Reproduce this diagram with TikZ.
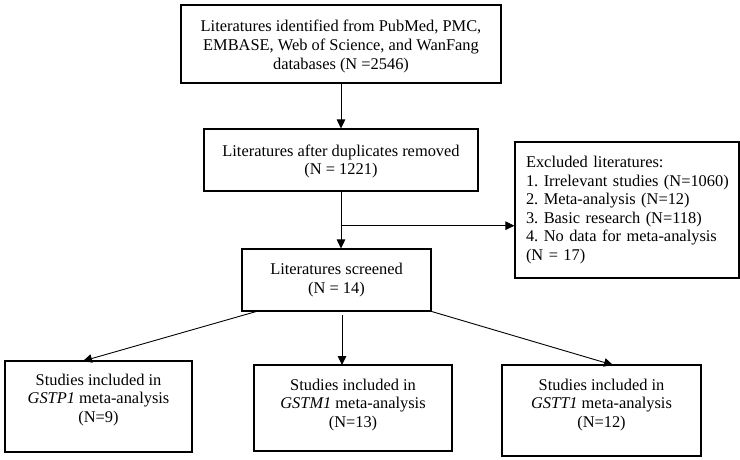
\documentclass[tikz,border=0pt]{standalone}
\usepackage{fontspec}
\setmainfont{Liberation Serif}
\usetikzlibrary{arrows.meta}
\begin{document}
\frenchspacing
\begin{tikzpicture}[x=1pt,y=-1pt,
  box/.style={draw, line width=1.1pt, inner sep=0pt},
  txt/.style={font=\fontsize{16.4}{18.6}\selectfont\frenchspacing, align=center, inner sep=0pt},
  lin/.style={line width=0.9pt},
  arr/.style={line width=0.9pt, -{Triangle[length=9pt,width=8.5pt]}}]
\useasboundingbox[fill=white] (0,0) rectangle (740,459);
% boxes
\node[box, minimum width=320pt, minimum height=78pt] (b1) at (341,44) {};
\node[box, minimum width=274pt, minimum height=62pt] (b2) at (341,160) {};
\node[box, minimum width=189pt, minimum height=62pt] (b3) at (336.5,280) {};
\node[box, minimum width=224pt, minimum height=136pt] (ex) at (627,210) {};
\node[box, minimum width=187pt, minimum height=91pt] (b4) at (98.5,406.5) {};
\node[box, minimum width=198pt, minimum height=86pt] (b5) at (353,408) {};
\node[box, minimum width=199pt, minimum height=91pt] (b6) at (601.5,410.5) {};
% texts
\node[txt] (t1) at (341,46.5) {Literatures identified from PubMed, PMC,\\EMBASE, Web of Science, and WanFang\\databases (N =2546)};
\node[txt] (t2) at (341,161.5) {Literatures after duplicates removed\\(N = 1221)};
\node[txt] (t3) at (336.5,280) {Literatures screened\\(N = 14)};
\node[txt, align=left, text width=204pt, anchor=center] (tx) at (628,210) {Excluded literatures:\\1. Irrelevant studies (N=1060)\\2. Meta-analysis (N=12)\\3. Basic research (N=118)\\4. No data for meta-analysis\\(N = 17)};
\node[txt] (t4) at (98.5,400) {Studies included in\\\textit{GSTP1} meta-analysis\\(N=9)};
\node[txt] (t5) at (353,405) {Studies included in\\\textit{GSTM1} meta-analysis\\(N=13)};
\node[txt] (t6) at (601.5,405) {Studies included in\\\textit{GSTT1} meta-analysis\\(N=12)};
% connectors
\draw[arr] (b1.south) -- (b2.north);
\coordinate (j) at (341,225.7);
\draw[lin] (b2.south) -- (j);
\draw[arr] (j) -- (j |- b3.north);
\draw[arr] (j) -- (j -| ex.west);
\coordinate (d1) at (258,311);
\coordinate (e1) at (83,361);
\draw[arr] (d1) -- (e1);
\coordinate (d2) at (342,315);
\coordinate (e2) at (342 ,365);
\draw[arr] (d2) -- (e2);
\coordinate (d3) at (430,311);
\coordinate (e3) at (613,365);
\draw[arr] (d3) -- (e3);
\end{tikzpicture}
\end{document}
